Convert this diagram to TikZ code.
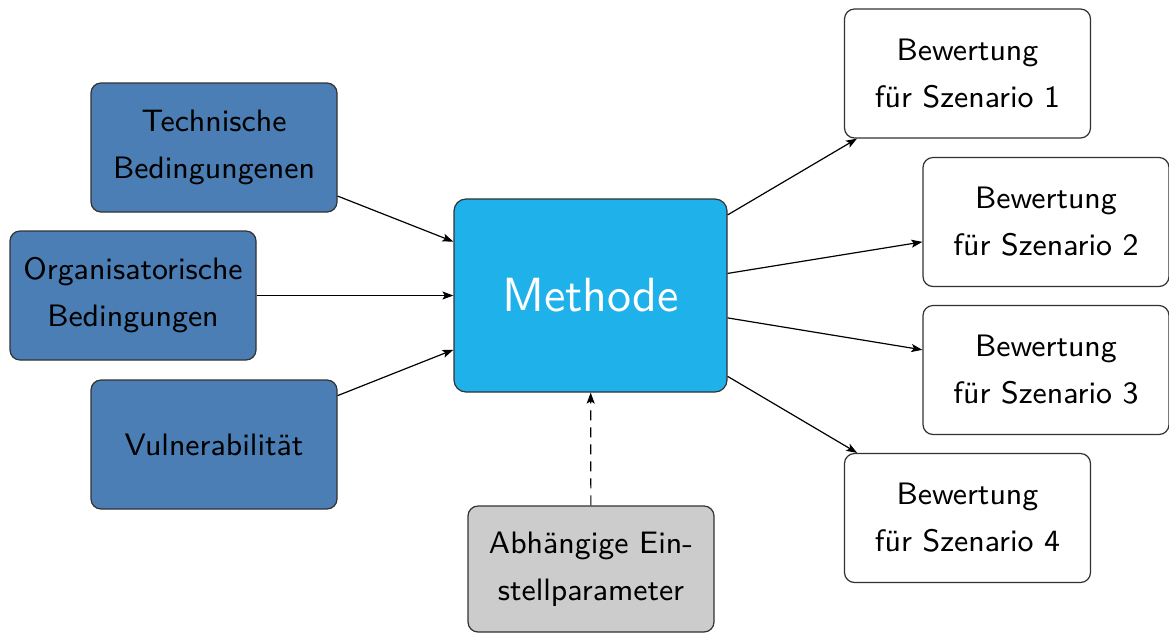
\documentclass[tikz,border=0pt]{standalone}
\usepackage{fontspec}
\usetikzlibrary{arrows.meta}
% sans serif text at small design sizes, scaled up
\newfontfamily\labelfont{lmsans9-regular}[Extension=.otf]
\newfontfamily\titlefont{lmsans10-regular}[Extension=.otf]
\definecolor{inputblue}{RGB}{74,126,180}
\definecolor{methodcyan}{RGB}{31,178,234}
\definecolor{paramgray}{RGB}{204,204,204}
\definecolor{edgegray}{RGB}{50,50,50}
\begin{document}
\begin{tikzpicture}[x=0.5pt,y=-0.5pt,
  box/.style={draw=edgegray, line width=0.6pt, rounded corners=5pt,
    minimum width=123pt, minimum height=64.5pt, align=center,
    font=\labelfont\fontsize{15.5}{23.5}\selectfont, inner sep=0pt},
  inbox/.style={box, fill=inputblue},
  outbox/.style={box, fill=white},
  parambox/.style={box, fill=paramgray, minimum height=63pt},
  methodbox/.style={draw=edgegray, line width=0.6pt, rounded corners=6pt,
    fill=methodcyan, text=white, minimum width=136.5pt, minimum height=96.5pt,
    font=\titlefont\fontsize{24}{28}\selectfont},
  flow/.style={line width=0.6pt, -{Stealth[length=5.5pt,width=4pt,inset=1.2pt]}},
  dependency/.style={flow, dash pattern=on 5pt off 3.5pt}]
\useasboundingbox (0,0) rectangle (1169,634);

% inputs on the left
\node[inbox] (tech) at (214,147.5) {Technische\\Bedingungenen};
\node[inbox] (org)  at (133,295.5) {Organisatorische\\Bedingungen};
\node[inbox] (vuln) at (214,444.5) {Vulnerabilität};

% central method
\node[methodbox] (method) at (590.5,295.5) {Methode};

% parameter input below
\node[parambox] (param) at (591,569) {Abhängige Ein-\\stellparameter};

% results on the right
\node[outbox] (s1) at (967.5,73.5)  {Bewertung\\für Szenario 1};
\node[outbox] (s2) at (1046,222)    {Bewertung\\für Szenario 2};
\node[outbox] (s3) at (1046,370)    {Bewertung\\für Szenario 3};
\node[outbox] (s4) at (967.5,518)   {Bewertung\\für Szenario 4};

% connectors
\draw[flow] (tech) -- (method);
\draw[flow] (org) -- (method);
\draw[flow] (vuln) -- (method);
\draw[dependency] (param) -- (method);
\draw[flow] (method) -- (s1);
\draw[flow] (method) -- (s2);
\draw[flow] (method) -- (s3);
\draw[flow] (method) -- (s4);
\end{tikzpicture}
\end{document}
